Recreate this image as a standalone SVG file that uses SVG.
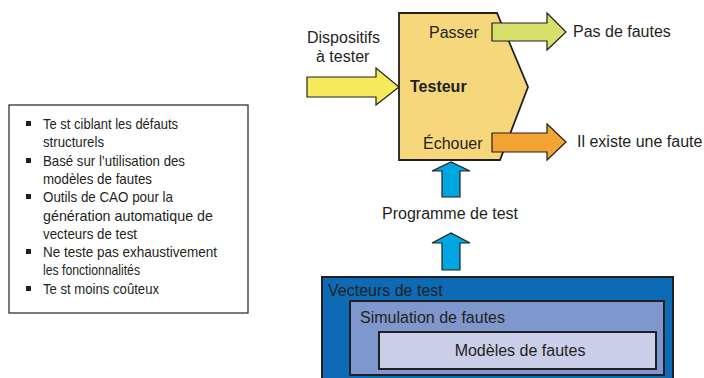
<svg xmlns="http://www.w3.org/2000/svg" width="704" height="378" viewBox="0 0 704 378">
<style>
text{font-family:"Liberation Sans",Arial,sans-serif;fill:#231F20}
.lst{font-size:15px}
.lbl{font-size:16px}
.arr{stroke:#231F20;stroke-width:1.2;stroke-linejoin:miter}
.box{stroke:#231F20;stroke-width:2}
</style>
<rect width="704" height="378" fill="#ffffff"/>
<g id="notes">
<rect x="9" y="105" width="239" height="208" fill="#ffffff" stroke="#231F20" stroke-width="1.2"/>
<g fill="#231F20">
<rect x="26" y="121" width="5" height="5"/>
<rect x="26" y="158" width="5" height="5"/>
<rect x="26" y="194" width="5" height="5"/>
<rect x="26" y="249" width="5" height="5"/>
<rect x="26" y="286" width="5" height="5"/>
</g>
<text class="lst" x="43" y="129" textLength="135" lengthAdjust="spacingAndGlyphs">Te st ciblant les défauts</text>
<text class="lst" x="43" y="147" textLength="61" lengthAdjust="spacingAndGlyphs">structurels</text>
<text class="lst" x="43" y="166" textLength="142" lengthAdjust="spacingAndGlyphs">Basé sur l’utilisation des</text>
<text class="lst" x="43" y="184" textLength="109" lengthAdjust="spacingAndGlyphs">modèles de fautes</text>
<text class="lst" x="43" y="202" textLength="130" lengthAdjust="spacingAndGlyphs">Outils de CAO pour la</text>
<text class="lst" x="43" y="221" textLength="170" lengthAdjust="spacingAndGlyphs">génération automatique  de</text>
<text class="lst" x="43" y="239" textLength="94" lengthAdjust="spacingAndGlyphs">vecteurs de test</text>
<text class="lst" x="43" y="257" textLength="174" lengthAdjust="spacingAndGlyphs">Ne teste pas exhaustivement</text>
<text class="lst" x="43" y="275" textLength="97" lengthAdjust="spacingAndGlyphs">les fonctionnalités</text>
<text class="lst" x="43" y="294" textLength="116" lengthAdjust="spacingAndGlyphs">Te st moins coûteux</text>
</g>
<g id="testeur">
<polygon points="399,13 497,13 528,87 500,160 399,160" fill="#F6D77C" stroke="#231F20" stroke-width="1.8"/>
<text class="lbl" x="429" y="38">Passer</text>
<text class="lbl" x="410" y="92" font-weight="bold">Testeur</text>
<text class="lbl" x="423" y="149">Échouer</text>
</g>
<g id="connectors">
<polygon class="arr" fill="#F4EA5A" points="307,77 376,77 376,68 399,87 376,105 376,97 307,97"/>
<polygon class="arr" fill="#D6E06B" points="492,23 547,23 547,13 566,32 547,50 547,41 492,41"/>
<polygon class="arr" fill="#F4A433" points="492,133 547,133 547,124 566,142 547,160 547,152 492,152"/>
<polygon class="arr" fill="#00A6DF" points="442,197 442,171 432,171 451,162 470,171 460,171 460,197"/>
<polygon class="arr" fill="#00A6DF" points="442,270 442,243 432,243 451,233 470,243 460,243 460,270"/>
</g>
<g id="inputs">
<text class="lbl" x="307" y="43">Dispositifs</text>
<text class="lbl" x="316" y="62">à tester</text>
</g>
<g id="outputs">
<text class="lbl" x="573" y="37">Pas de fautes</text>
<text class="lbl" x="577" y="147">Il existe une faute</text>
</g>
<g id="programme">
<text class="lbl" x="382" y="219">Programme de test</text>
</g>
<g id="vecteurs">
<rect class="box" x="322" y="277" width="351" height="110" fill="#0C6BB4"/>
<text class="lbl" x="328" y="296">Vecteurs de test</text>
</g>
<g id="simulation">
<rect class="box" x="350" y="301" width="314" height="74" fill="#7E97CC"/>
<text class="lbl" x="360" y="323">Simulation de fautes</text>
</g>
<g id="modeles">
<rect class="box" x="379" y="332" width="277" height="37" fill="#C9CEE9"/>
<text class="lbl" x="520" y="356" text-anchor="middle">Modèles de fautes</text>
</g>
</svg>
